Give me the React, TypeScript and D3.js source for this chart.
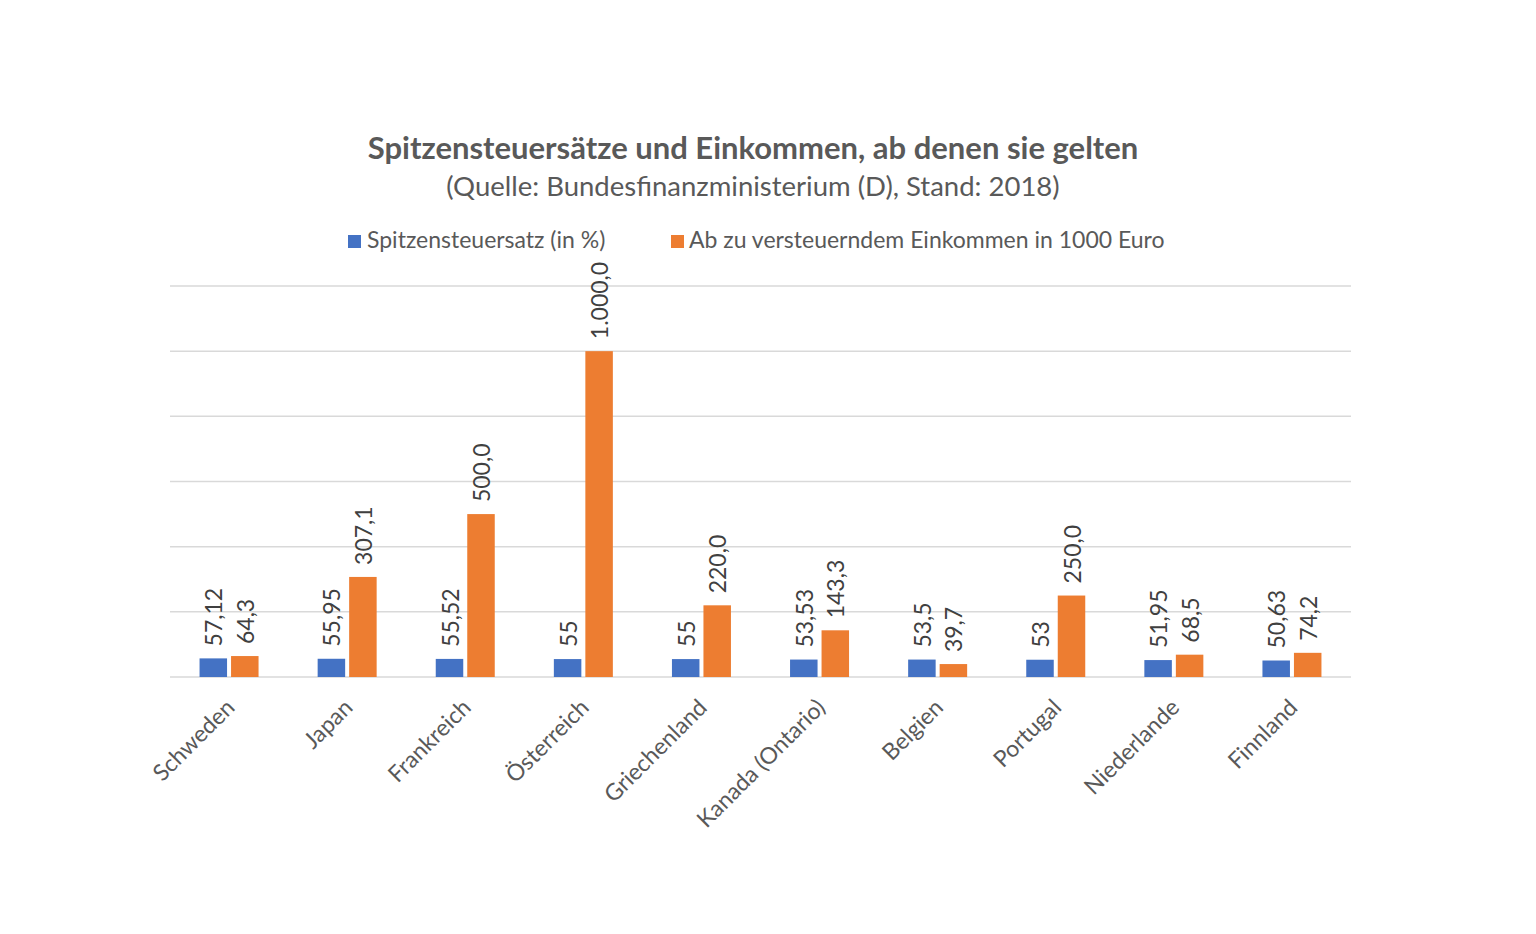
import React from "react";
import * as d3 from "d3";

const categories = ["Schweden", "Japan", "Frankreich", "Österreich", "Griechenland", "Kanada (Ontario)", "Belgien", "Portugal", "Niederlande", "Finnland"];
const rateValues = [57.12, 55.95, 55.52, 55, 55, 53.53, 53.5, 53, 51.95, 50.63];
const incomeValues = [64.3, 307.1, 500.0, 1000.0, 220.0, 143.3, 39.7, 250.0, 68.5, 74.2];
const seriesNames = ["Spitzensteuersatz (in %)", "Ab zu versteuerndem Einkommen in 1000 Euro"];
const yTicks = [0, 200, 400, 600, 800, 1000, 1200];
const titleText = "Spitzensteuersätze und Einkommen, ab denen sie gelten";
const subtitleText = "(Quelle: Bundesfinanzministerium (D), Stand: 2018)";

const W = 1536, H = 934;
const FONT = "Lato, 'Open Sans', sans-serif";
const TEXT = "#595959";
const BLUE = "#4472C4";
const ORANGE = "#ED7D31";

const locale = d3.formatLocale({ decimal: ",", thousands: ".", grouping: [3], currency: ["", "€"] });
const fmtIncome = locale.format(",.1f");
const fmtRate = (v: number) => String(v).replace(".", ",");

export default function App() {
  const left = 170, right = 1351, top = 286, bottom = 677;
  const x = d3.scaleBand<string>().domain(categories).range([left, right]).paddingInner(0).paddingOuter(0);
  const y = d3.scaleLinear().domain([0, 1200]).range([bottom, top]);
  const bw = x.bandwidth();
  const barW = 27.5;
  const gap = 4;
  const series = [
    { name: seriesNames[0], values: rateValues, color: BLUE, fmt: fmtRate, off: -gap / 2 - barW },
    { name: seriesNames[1], values: incomeValues, color: ORANGE, fmt: (v: number) => fmtIncome(v), off: gap / 2 },
  ];
  return (
    <div style={{ position: "fixed", left: 0, top: 0, width: W, height: H, background: "#fff" }}>
      <svg width={W} height={H} style={{ display: "block", fontFamily: FONT }}>
        <rect width={W} height={H} fill="#fff" />
        <text x={753} y={159} textAnchor="middle" fontSize={31} fontWeight={700} fill={TEXT}>{titleText}</text>
        <text x={753} y={196} textAnchor="middle" fontSize={27.5} fill={TEXT}>{subtitleText}</text>
        <g>
          <rect x={348} y={235} width={13} height={13} fill={BLUE} />
          <text x={367} y={248} fontSize={23} fill={TEXT}>{seriesNames[0]}</text>
          <rect x={671} y={235} width={13} height={13} fill={ORANGE} />
          <text x={689} y={248} fontSize={23} fill={TEXT}>{seriesNames[1]}</text>
        </g>
        {yTicks.map((t) => (
          <line key={t} x1={left} x2={right} y1={y(t)} y2={y(t)} stroke="#d9d9d9" strokeWidth={1.5} />
        ))}
        {series.map((s) =>
          categories.map((c, i) => {
            const cx = (x(c) as number) + bw / 2;
            const bx = cx + s.off;
            const v = s.values[i];
            const yt = y(v);
            return (
              <g key={s.name + c}>
                <rect x={bx} y={yt} width={barW} height={bottom - yt} fill={s.color} />
                <text
                  transform={`translate(${bx + barW / 2},${yt - 12}) rotate(-90)`}
                  dominantBaseline="central"
                  fontSize={23}
                  fill="#404040"
                >
                  {s.fmt(v)}
                </text>
              </g>
            );
          })
        )}
        {categories.map((c) => {
          const cx = (x(c) as number) + bw / 2;
          return (
            <text
              key={c}
              transform={`translate(${cx - 6},${bottom + 19}) rotate(-45)`}
              textAnchor="end"
              dominantBaseline="hanging"
              fontSize={23}
              fill={TEXT}
            >
              {c}
            </text>
          );
        })}
      </svg>
    </div>
  );
}
